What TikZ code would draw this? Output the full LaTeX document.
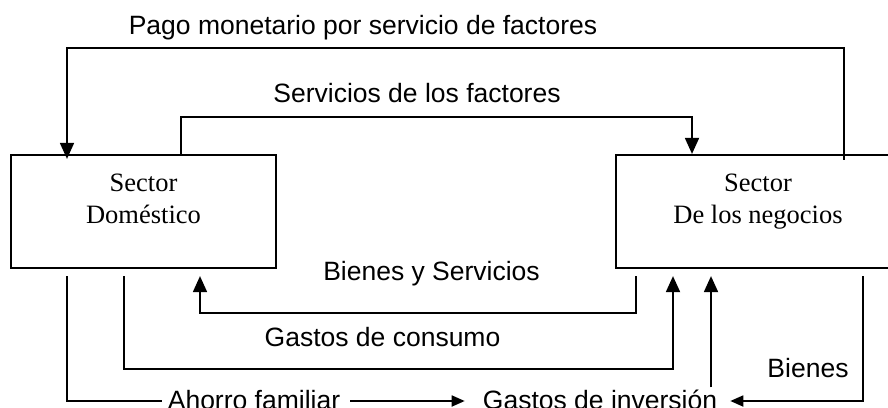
\documentclass[tikz,border=0pt]{standalone}
\usepackage{fontspec}
\setmainfont{Liberation Serif}
\setsansfont{Liberation Sans}
\usetikzlibrary{arrows.meta}
\begin{document}
\begin{tikzpicture}[x=1pt,y=-1pt,
  conn/.style={line width=1.8pt},
  arr/.style={conn,-{Triangle[length=16pt,width=14pt]}},
  sarr/.style={conn,-{Triangle[length=13pt,width=11pt]}},
  sbox/.style={draw,line width=2.2pt,inner sep=0pt},
  boxtxt/.style={font=\fontsize{26.5}{32}\selectfont,inner sep=0pt,anchor=base},
  lbl/.style={font=\sffamily\fontsize{26.5}{32}\selectfont,inner sep=0pt,anchor=base}]
\useasboundingbox (0,0) rectangle (888,407);

% boxes
\node[sbox,minimum width=265pt,minimum height=113pt] (dom) at (143.5,211.5) {};
\node[sbox,minimum width=284pt,minimum height=113pt] (neg) at (758,211.5) {};
\node[boxtxt] (domA) at (143.5,191) {Sector};
\node[boxtxt] (domB) at (143.5,223) {Doméstico};
\node[boxtxt] (negA) at (758,191) {Sector};
\node[boxtxt] (negB) at (758,223) {De los negocios};

% labels
\node[lbl] (pago) at (363,34) {Pago monetario por servicio de factores};
\node[lbl] (serv) at (417,102) {Servicios de los factores};
\node[lbl] (byS) at (431.5,280) {Bienes y Servicios};
\node[lbl] (cons) at (382.5,346) {Gastos de consumo};
\node[lbl] (bien) at (808,377) {Bienes};
\node[lbl] (ahorro) at (254,409) {Ahorro familiar};
\node[lbl] (inv) at (600,409) {Gastos de inversión};

% helper coordinates
\coordinate (xP) at (67,0);
\coordinate (xPr) at (844,0);
\coordinate (yPago) at (400,48);
\coordinate (xS) at (181,0);
\coordinate (xSr) at (692,0);
\coordinate (ySer) at (400,117);
\coordinate (xB1) at (636,0);
\coordinate (xB2) at (200,0);
\coordinate (yBS) at (400,313);
\coordinate (xC1) at (124,0);
\coordinate (xC2) at (673,0);
\coordinate (yC) at (400,369);
\coordinate (xI) at (711,0);
\coordinate (xR) at (863,0);
\coordinate (yL) at (0,401);

% Pago monetario
\draw[arr] ([yshift=-6pt]neg.north -| xPr) |- (yPago) -| ([yshift=-5pt]dom.north -| xP);
% Servicios de los factores
\draw[arr] (dom.north -| xS) |- (ySer) -| (neg.north -| xSr);
% Bienes y Servicios
\draw[arr] ([yshift=-7pt]neg.south -| xB1) |- (yBS) -| ([yshift=-7pt]dom.south -| xB2);
% Gastos de consumo
\draw[arr] ([yshift=-7pt]dom.south -| xC1) |- (yC) -| ([yshift=-7pt]neg.south -| xC2);
% Ahorro familiar
\draw[conn] ([yshift=-7pt]dom.south -| xP) |- ([xshift=-6pt]ahorro.west |- yL);
\draw[sarr] ([xshift=10pt]ahorro.east |- yL) -- ([xshift=-18pt]inv.west |- yL);
% Gastos de inversion up
\draw[arr] ([yshift=2pt]inv.north -| xI) -- ([yshift=-7pt]neg.south -| xI);
% Bienes
\draw[sarr] ([yshift=-7pt]neg.south -| xR) |- ([xshift=13pt]inv.east |- yL);
\end{tikzpicture}
\end{document}
